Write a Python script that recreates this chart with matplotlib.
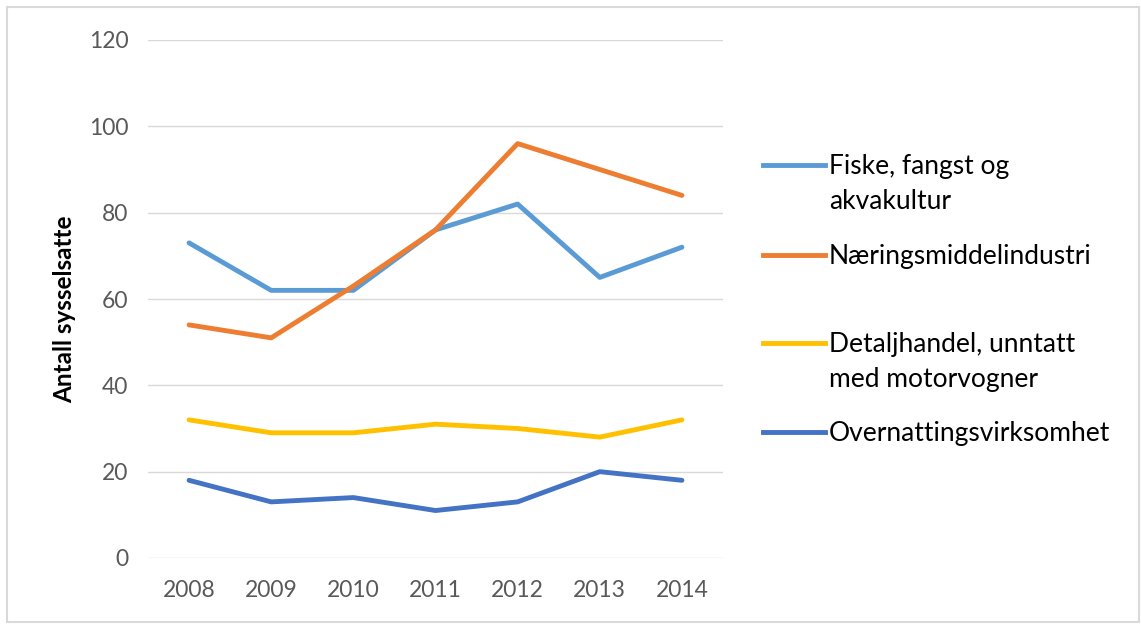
import matplotlib.pyplot as plt
from matplotlib.lines import Line2D
from matplotlib.patches import Rectangle

years = ['2008', '2009', '2010', '2011', '2012', '2013', '2014']
fiske = [73, 62, 62, 76, 82, 65, 72]
naering = [54, 51, 63, 76, 96, 90, 84]
detalj = [32, 29, 29, 31, 30, 28, 32]
overnatting = [18, 13, 14, 11, 13, 20, 18]

labels = ['Fiske, fangst og\nakvakultur', 'Næringsmiddelindustri',
          'Detaljhandel, unntatt\nmed motorvogner', 'Overnattingsvirksomhet']
colors = ['#5B9BD5', '#ED7D31', '#FFC000', '#4472C4']
series = [fiske, naering, detalj, overnatting]

plt.rcParams['font.family'] = ['Lato', 'DejaVu Sans']

W, H = 1141, 624
fig = plt.figure(figsize=(W / 100, H / 100), dpi=100)

# light frame around the whole chart
fig.patches.append(Rectangle((7 / W, 2 / H), 1132 / W, 615 / H, transform=fig.transFigure,
                             fill=False, edgecolor='#D9D9D9', linewidth=1.5))

ax = fig.add_axes([148 / W, (H - 558) / H, 575 / W, 518 / H])
x = list(range(len(years)))
for vals, c in zip(series, colors):
    ax.plot(x, vals, color=c, linewidth=3.5, solid_capstyle='round', solid_joinstyle='round')

ax.set_xlim(-0.5, len(years) - 0.5)
ax.set_ylim(0, 120)
ax.set_yticks(range(0, 121, 20))
ax.set_xticks(x)
ax.set_xticklabels(years)
ax.grid(axis='y', color='#D9D9D9', linewidth=1)
ax.set_axisbelow(True)
for s in ax.spines.values():
    s.set_visible(False)
ax.tick_params(length=0, labelsize=16.5, colors='#595959')
ax.tick_params(axis='y', pad=14)
ax.tick_params(axis='x', pad=16)
ax.set_ylabel('Antall sysselsatte', fontsize=17.5, fontweight='bold', color='black')
ax.yaxis.set_label_coords(-0.125, 0.48)

# legend drawn to the right, handle level with first text line
rows = [165, 255, 343, 432]
line_step = 35
for lab, c, yy in zip(labels, colors, rows):
    yf = (H - yy) / H
    fig.add_artist(Line2D([763 / W, 825 / W], [yf, yf], color=c, linewidth=3.5,
                          transform=fig.transFigure))
    for i, part in enumerate(lab.split('\n')):
        fig.text(829 / W, (H - yy - 9 - i * line_step) / H, part, fontsize=19,
                 va='baseline', ha='left', color='black')

fig.savefig('out.png', dpi=100)
